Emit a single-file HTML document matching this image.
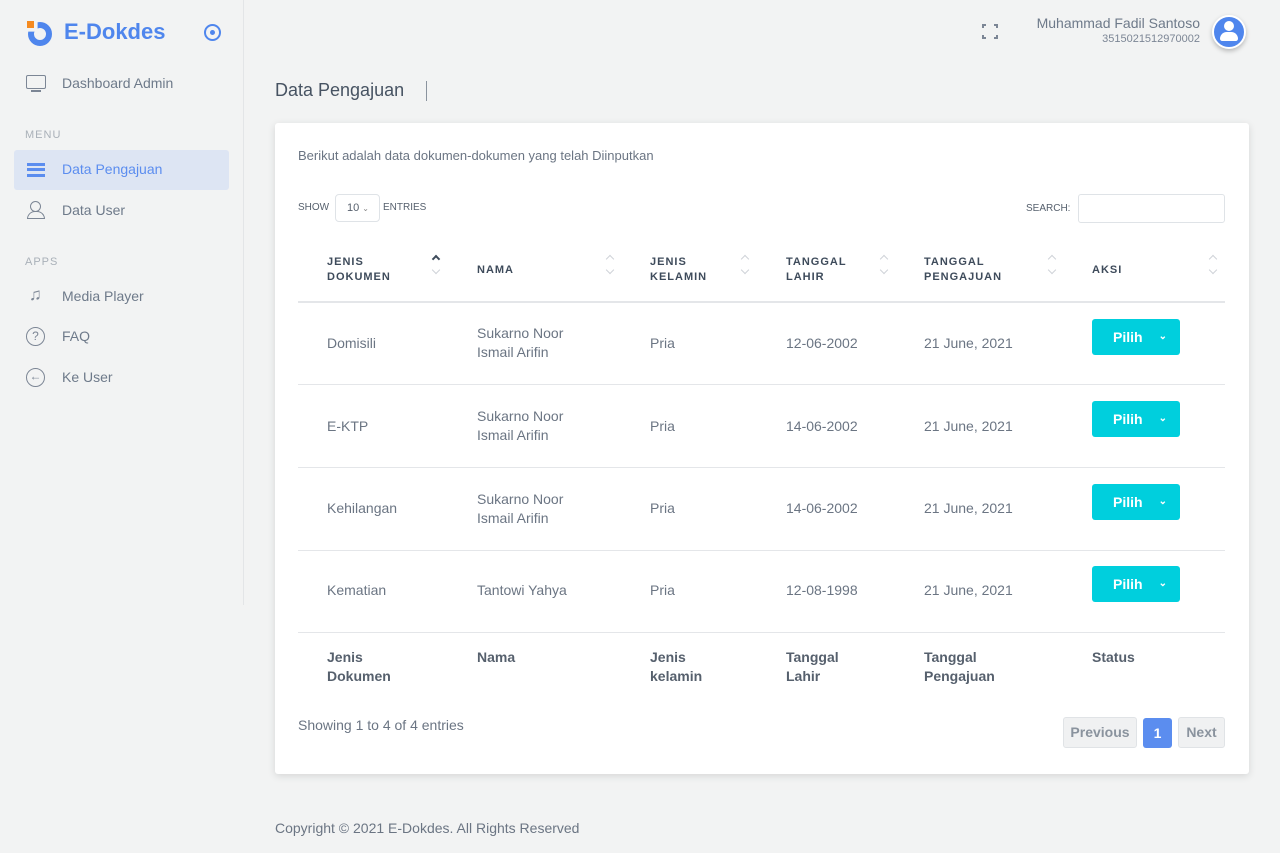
<!DOCTYPE html>
<html><head><meta charset="utf-8"><style>
*{margin:0;padding:0;box-sizing:border-box}
body{width:1280px;height:853px;background:#f2f3f3;font-family:"Liberation Sans",sans-serif;color:#6b7583;position:relative;overflow:hidden}
.a{position:absolute;white-space:nowrap}
.side{position:absolute;left:243px;top:0;width:1px;height:605px;background:#e3e5e7}
.nav{font-size:14px;color:#6e7a8a}
.sec{font-size:11px;color:#a9b0b8;letter-spacing:1px}
.card{position:absolute;left:275px;top:123px;width:974px;height:651px;background:#fff;border-radius:3px;box-shadow:0 2px 8px rgba(0,0,0,.12)}
.th{font-size:11px;font-weight:bold;color:#3e4b5b;letter-spacing:1px;line-height:15px}
.td{font-size:14px;color:#6b7583;line-height:19px}
.tf{font-size:14px;font-weight:bold;color:#56606d;line-height:19px}
.line{position:absolute;left:298px;width:927px;height:1px;background:#e4e6e9}
.btn{position:absolute;left:1092px;width:88px;height:36px;background:#00cfdd;border-radius:3px;color:#fff;font-weight:bold;font-size:14px;line-height:36px;padding-left:21px}
.btn span{position:absolute;right:13px;top:0;font-size:10px}
.up,.dn{position:absolute;width:6px;height:6px;border-left:1.5px solid #cfd3d8;border-top:1.5px solid #cfd3d8}
.up{transform:rotate(45deg)}
.dn{transform:rotate(225deg)}
</style></head><body>
<div class="side"></div>
<div class="a" style="left:27px;top:21px;width:7px;height:7px;background:#f58a1f"></div>
<div class="a" style="left:28px;top:22px;width:24px;height:24px;border:6px solid #4f86ed;border-radius:50%;clip-path:polygon(0 40%,40% 40%,40% 0,100% 0,100% 100%,0 100%)"></div>
<div class="a" style="left:64px;top:19px;font-size:22px;font-weight:bold;color:#4f86ed">E-Dokdes</div>
<div class="a" style="left:204px;top:24px;width:17px;height:17px;border:2px solid #4f86ed;border-radius:50%"></div>
<div class="a" style="left:210px;top:30px;width:5px;height:5px;background:#4f86ed;border-radius:50%"></div>

<div class="a" style="left:26px;top:75px;width:20px;height:14px;border:1.5px solid #7c8695;border-radius:2px"></div>
<div class="a" style="left:31px;top:90px;width:10px;height:2px;background:#7c8695"></div>
<div class="a nav" style="left:62px;top:75px">Dashboard Admin</div>
<div class="a sec" style="left:25px;top:129px">MENU</div>
<div class="a" style="left:14px;top:150px;width:215px;height:40px;background:#dde5f3;border-radius:3px"></div>
<div class="a" style="left:27px;top:163px;width:18px;height:14px;border-top:3px solid #5b8def;border-bottom:3px solid #5b8def"></div>
<div class="a" style="left:27px;top:168px;width:18px;height:3px;background:#5b8def"></div>
<div class="a nav" style="left:62px;top:161px;color:#5b8def">Data Pengajuan</div>
<div class="a" style="left:30px;top:201px;width:11px;height:11px;border:1.5px solid #7c8695;border-radius:50%"></div>
<div class="a" style="left:27px;top:211px;width:18px;height:8px;border:1.5px solid #7c8695;border-radius:8px 8px 0 0"></div>
<div class="a nav" style="left:62px;top:202px">Data User</div>
<div class="a sec" style="left:25px;top:256px">APPS</div>
<div class="a nav" style="left:29px;top:285px;font-size:17px;color:#7c8695">♫</div>
<div class="a nav" style="left:62px;top:288px">Media Player</div>
<div class="a" style="left:26px;top:327px;width:19px;height:19px;border:1.5px solid #7c8695;border-radius:50%;font-size:12px;text-align:center;line-height:16px;color:#7c8695">?</div>
<div class="a nav" style="left:62px;top:328px">FAQ</div>
<div class="a" style="left:26px;top:368px;width:19px;height:19px;border:1.5px solid #7c8695;border-radius:50%;font-size:12px;text-align:center;line-height:15px;color:#7c8695">←</div>
<div class="a nav" style="left:62px;top:369px">Ke User</div>

<div class="a" style="left:982px;top:24px;width:16px;height:15px;border:2px dashed #7c8695"></div>
<div class="a" style="left:986px;top:22px;width:8px;height:19px;background:#f2f3f3"></div>
<div class="a" style="left:980px;top:28px;width:20px;height:7px;background:#f2f3f3"></div>
<div class="a" style="left:1028px;top:15px;font-size:14px;color:#6e7a8a;width:172px;text-align:right">Muhammad Fadil Santoso</div>
<div class="a" style="left:1028px;top:33px;font-size:11px;color:#7c8695;width:172px;text-align:right">3515021512970002</div>
<div class="a" style="left:1212px;top:15px;width:34px;height:34px;border-radius:50%;background:#4f86ed;box-shadow:0 2px 5px rgba(0,0,0,.25);border:2px solid #fff"></div>
<div class="a" style="left:1224px;top:21px;width:10px;height:10px;border-radius:50%;background:#fff"></div>
<div class="a" style="left:1220px;top:32px;width:18px;height:9px;border-radius:9px 9px 3px 3px;background:#fff"></div>

<div class="a" style="left:275px;top:80px;font-size:18px;color:#475362">Data Pengajuan</div>
<div class="a" style="left:426px;top:81px;width:1px;height:20px;background:#8a939e"></div>

<div class="card"></div>
<div class="a" style="left:298px;top:148px;font-size:13px;color:#6b7583">Berikut adalah data dokumen-dokumen yang telah Diinputkan</div>
<div class="a" style="left:298px;top:202px;font-size:10px;color:#56606d">SHOW</div>
<div class="a" style="left:335px;top:194px;width:45px;height:28px;border:1px solid #dfe3e7;border-radius:4px;font-size:11px;line-height:27px;padding-left:11px;color:#56606d">10 <span style="font-size:8px;color:#888">⌄</span></div>
<div class="a" style="left:383px;top:202px;font-size:10px;color:#56606d">ENTRIES</div>
<div class="a" style="left:1026px;top:203px;font-size:10px;color:#56606d">SEARCH:</div>
<div class="a" style="left:1078px;top:194px;width:147px;height:29px;border:1px solid #dfe3e7;border-radius:3px"></div>

<div class="a th" style="left:327px;top:255px">JENIS<br>DOKUMEN</div>
<div class="a th" style="left:477px;top:263px">NAMA</div>
<div class="a th" style="left:650px;top:255px">JENIS<br>KELAMIN</div>
<div class="a th" style="left:786px;top:255px">TANGGAL<br>LAHIR</div>
<div class="a th" style="left:924px;top:255px">TANGGAL<br>PENGAJUAN</div>
<div class="a th" style="left:1092px;top:263px">AKSI</div>
<div class="up" style="left:433px;top:256px;border-color:#3e4b5b;border-width:2px"></div><div class="dn" style="left:433px;top:267px"></div>
<div class="up" style="left:607px;top:256px"></div><div class="dn" style="left:607px;top:267px"></div>
<div class="up" style="left:742px;top:256px"></div><div class="dn" style="left:742px;top:267px"></div>
<div class="up" style="left:881px;top:256px"></div><div class="dn" style="left:881px;top:267px"></div>
<div class="up" style="left:1049px;top:256px"></div><div class="dn" style="left:1049px;top:267px"></div>
<div class="up" style="left:1210px;top:256px"></div><div class="dn" style="left:1210px;top:267px"></div>
<div class="line" style="top:301px;height:2px"></div>

<div class="a td" style="left:327px;top:334px">Domisili</div>
<div class="a td" style="left:477px;top:324px">Sukarno Noor<br>Ismail Arifin</div>
<div class="a td" style="left:650px;top:334px">Pria</div>
<div class="a td" style="left:786px;top:334px">12-06-2002</div>
<div class="a td" style="left:924px;top:334px">21 June, 2021</div>
<div class="btn" style="top:319px">Pilih<span>⌄</span></div>
<div class="line" style="top:384px"></div>

<div class="a td" style="left:327px;top:417px">E-KTP</div>
<div class="a td" style="left:477px;top:407px">Sukarno Noor<br>Ismail Arifin</div>
<div class="a td" style="left:650px;top:417px">Pria</div>
<div class="a td" style="left:786px;top:417px">14-06-2002</div>
<div class="a td" style="left:924px;top:417px">21 June, 2021</div>
<div class="btn" style="top:401px">Pilih<span>⌄</span></div>
<div class="line" style="top:467px"></div>

<div class="a td" style="left:327px;top:499px">Kehilangan</div>
<div class="a td" style="left:477px;top:490px">Sukarno Noor<br>Ismail Arifin</div>
<div class="a td" style="left:650px;top:499px">Pria</div>
<div class="a td" style="left:786px;top:499px">14-06-2002</div>
<div class="a td" style="left:924px;top:499px">21 June, 2021</div>
<div class="btn" style="top:484px">Pilih<span>⌄</span></div>
<div class="line" style="top:550px"></div>

<div class="a td" style="left:327px;top:581px">Kematian</div>
<div class="a td" style="left:477px;top:581px">Tantowi Yahya</div>
<div class="a td" style="left:650px;top:581px">Pria</div>
<div class="a td" style="left:786px;top:581px">12-08-1998</div>
<div class="a td" style="left:924px;top:581px">21 June, 2021</div>
<div class="btn" style="top:566px">Pilih<span>⌄</span></div>
<div class="line" style="top:632px"></div>

<div class="a tf" style="left:327px;top:648px">Jenis<br>Dokumen</div>
<div class="a tf" style="left:477px;top:648px">Nama</div>
<div class="a tf" style="left:650px;top:648px">Jenis<br>kelamin</div>
<div class="a tf" style="left:786px;top:648px">Tanggal<br>Lahir</div>
<div class="a tf" style="left:924px;top:648px">Tanggal<br>Pengajuan</div>
<div class="a tf" style="left:1092px;top:648px">Status</div>

<div class="a" style="left:298px;top:717px;font-size:14px;color:#6b7583">Showing 1 to 4 of 4 entries</div>
<div class="a" style="left:1063px;top:717px;width:74px;height:31px;background:#f0f1f2;border:1px solid #e0e3e6;border-radius:3px;font-size:14px;font-weight:bold;color:#8a939e;text-align:center;line-height:29px">Previous</div>
<div class="a" style="left:1143px;top:718px;width:29px;height:30px;background:#5b8def;border-radius:3px;font-size:14px;font-weight:bold;color:#fff;text-align:center;line-height:30px">1</div>
<div class="a" style="left:1178px;top:717px;width:47px;height:31px;background:#f0f1f2;border:1px solid #e0e3e6;border-radius:3px;font-size:14px;font-weight:bold;color:#8a939e;text-align:center;line-height:29px">Next</div>

<div class="a" style="left:275px;top:820px;font-size:14px;color:#6b7583">Copyright © 2021 E-Dokdes. All Rights Reserved</div>
</body></html>
